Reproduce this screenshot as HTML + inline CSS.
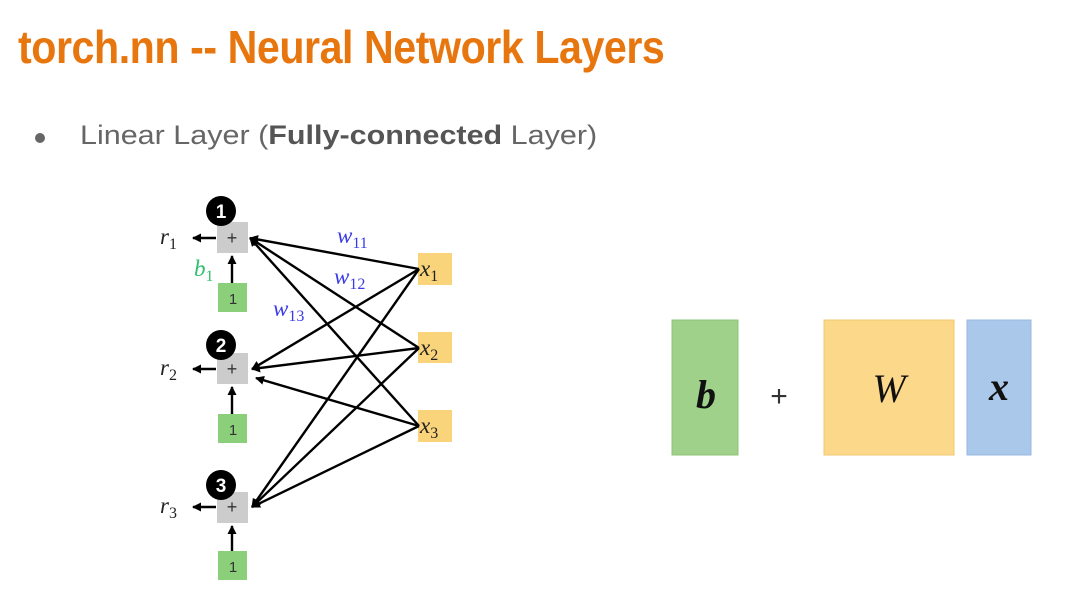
<!DOCTYPE html>
<html><head><style>
body{margin:0;width:1065px;height:592px;background:#fff;overflow:hidden;position:relative;font-family:"Liberation Sans",sans-serif}
.t{position:absolute;left:18px;top:20px;font-size:46px;font-weight:bold;color:#e8760f;white-space:nowrap;transform:scaleX(0.895);transform-origin:0 0;letter-spacing:-0.5px}
.b{position:absolute;left:80px;top:120px;font-size:27px;color:#666;white-space:nowrap;transform:scaleX(1.13);transform-origin:0 0}
.b b{color:#555}
.dot{position:absolute;left:35px;top:133px;width:10px;height:10px;border-radius:50%;background:#666}
</style></head><body>
<div class="t">torch.nn -- Neural Network Layers</div>
<div class="dot"></div>
<div class="b">Linear Layer (<b>Fully-connected</b> Layer)</div>
<svg width="1065" height="592" style="position:absolute;left:0;top:0">
<defs><marker id="a" markerWidth="9" markerHeight="9" refX="8" refY="4.5" orient="auto" markerUnits="userSpaceOnUse"><path d="M0,0 L9,4.5 L0,9z" fill="#000"/></marker></defs>
<g fill="#ccc"><rect x="217" y="222" width="31" height="31"/><rect x="217" y="353" width="31" height="31"/><rect x="217" y="492" width="31" height="31"/></g>
<g fill="#8ccf7a"><rect x="218" y="283" width="29" height="29"/><rect x="218" y="414" width="29" height="29"/><rect x="218" y="551" width="29" height="29"/></g>
<g fill="#f9d47a"><rect x="418" y="253" width="34" height="32"/><rect x="418" y="332" width="34" height="31"/><rect x="418" y="410" width="34" height="32"/></g>
<g font-size="18" text-anchor="middle" fill="#333"><text x="232" y="244">+</text><text x="232" y="375">+</text><text x="232" y="513">+</text>
<text x="233" y="304" font-size="15">1</text><text x="233" y="435" font-size="15">1</text><text x="233" y="572" font-size="15">1</text></g>
<g fill="#000"><circle cx="221" cy="211" r="15"/><circle cx="221" cy="345" r="15"/><circle cx="221" cy="485" r="15"/></g>
<g fill="#fff" font-size="19" font-weight="bold" text-anchor="middle"><text x="221" y="218">1</text><text x="221" y="352">2</text><text x="221" y="492">3</text></g>
<g stroke="#000" stroke-width="2.4" marker-end="url(#a)">
<line x1="216" y1="238" x2="193" y2="238"/><line x1="216" y1="369" x2="193" y2="369"/><line x1="216" y1="507" x2="193" y2="507"/>
<line x1="232" y1="283" x2="232" y2="256"/><line x1="232" y1="414" x2="232" y2="387"/><line x1="232" y1="551" x2="232" y2="526"/>
<line x1="419" y1="269" x2="250" y2="238"/><line x1="419" y1="348" x2="250" y2="238"/><line x1="419" y1="426" x2="250" y2="238"/>
<line x1="419" y1="269" x2="252" y2="369"/><line x1="419" y1="348" x2="252" y2="369"/><line x1="419" y1="426" x2="256" y2="378"/>
<line x1="419" y1="269" x2="252" y2="507"/><line x1="419" y1="348" x2="252" y2="507"/><line x1="419" y1="426" x2="252" y2="507"/>
</g>
<g font-family="Liberation Serif,serif" font-style="italic" font-size="23" fill="#222">
<text x="160" y="244">r<tspan font-size="16" dy="5" font-style="normal">1</tspan></text>
<text x="160" y="375">r<tspan font-size="16" dy="5" font-style="normal">2</tspan></text>
<text x="160" y="513">r<tspan font-size="16" dy="5" font-style="normal">3</tspan></text>
<text x="420" y="276">x<tspan font-size="16" dy="5" font-style="normal">1</tspan></text>
<text x="420" y="355">x<tspan font-size="16" dy="5" font-style="normal">2</tspan></text>
<text x="420" y="433">x<tspan font-size="16" dy="5" font-style="normal">3</tspan></text>
<text x="194" y="276" fill="#2fbf6f">b<tspan font-size="16" dy="5" font-style="normal">1</tspan></text>
<g fill="#3a3ae8"><text x="337" y="243">w<tspan font-size="16" dy="5" font-style="normal">11</tspan></text>
<text x="334" y="284">w<tspan font-size="16" dy="5" font-style="normal">12</tspan></text>
<text x="273" y="316">w<tspan font-size="16" dy="5" font-style="normal">13</tspan></text></g>
</g>
<rect x="672" y="320" width="66" height="135" fill="#9fd18a" stroke="#8cc474"/>
<rect x="824" y="320" width="130" height="135" fill="#fbd88a" stroke="#f0c870"/>
<rect x="967" y="320" width="64" height="135" fill="#a9c8ea" stroke="#98b8e0"/>
<g font-family="Liberation Serif,serif" font-style="italic" fill="#111" text-anchor="middle">
<text x="706" y="408" font-size="40" font-weight="bold">b</text>
<text x="889" y="402" font-size="40">W</text>
<text x="999" y="400" font-size="40" font-weight="bold">x</text></g>
<text x="779" y="406" font-size="30" text-anchor="middle" fill="#333">+</text>
</svg>
</body></html>
